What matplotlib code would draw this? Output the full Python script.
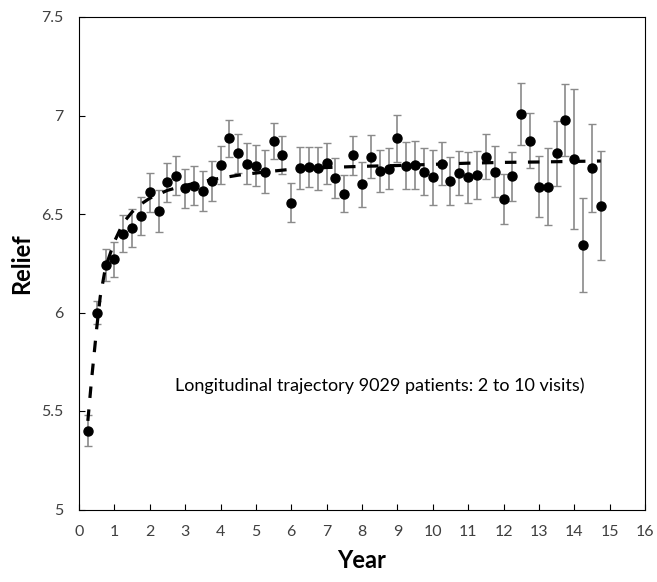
import matplotlib
matplotlib.use("Agg")
import matplotlib.pyplot as plt

# Observed means (quarter-year visits)
years = [0.25, 0.5, 0.75, 1.0, 1.25, 1.5, 1.75, 2.0, 2.25, 2.5, 2.75,
         3.0, 3.25, 3.5, 3.75, 4.0, 4.25, 4.5, 4.75, 5.0, 5.25, 5.5, 5.75,
         6.0, 6.25, 6.5, 6.75, 7.0, 7.25, 7.5, 7.75, 8.0, 8.25, 8.5, 8.75,
         9.0, 9.25, 9.5, 9.75, 10.0, 10.25, 10.5, 10.75, 11.0, 11.25, 11.5, 11.75,
         12.0, 12.25, 12.5, 12.75, 13.0, 13.25, 13.5, 13.75, 14.0, 14.25, 14.5, 14.75]
relief = [5.40, 6.00, 6.24, 6.27, 6.40, 6.43, 6.49, 6.61, 6.515, 6.66, 6.695,
          6.63, 6.644, 6.617, 6.668, 6.749, 6.884, 6.808, 6.755, 6.745, 6.715, 6.872, 6.798,
          6.557, 6.733, 6.739, 6.732, 6.757, 6.681, 6.603, 6.798, 6.651, 6.791, 6.72, 6.73,
          6.884, 6.745, 6.75, 6.715, 6.686, 6.755, 6.668, 6.71, 6.686, 6.696, 6.791, 6.715,
          6.576, 6.691, 7.006, 6.872, 6.639, 6.639, 6.808, 6.977, 6.781, 6.343, 6.733, 6.541]
err = [0.08, 0.06, 0.08, 0.09, 0.093, 0.095, 0.097, 0.10, 0.105, 0.10, 0.10,
       0.10, 0.10, 0.10, 0.10, 0.096, 0.093, 0.098, 0.103, 0.105, 0.108, 0.091, 0.097,
       0.099, 0.107, 0.103, 0.11, 0.104, 0.102, 0.095, 0.10, 0.114, 0.11, 0.106, 0.105,
       0.118, 0.118, 0.122, 0.118, 0.14, 0.11, 0.12, 0.112, 0.13, 0.122, 0.115, 0.13,
       0.128, 0.126, 0.157, 0.139, 0.154, 0.196, 0.166, 0.183, 0.355, 0.24, 0.223, 0.277]

# Fitted trajectory (dashed line)
fit_years = [0.25, 0.3, 0.35, 0.4, 0.45, 0.5, 0.6, 0.75, 1.0, 1.25, 1.5, 1.75, 2.0,
             2.5, 3.0, 3.5, 4.0, 4.5, 5.0, 5.5, 6.0, 7.0, 8.0, 9.0, 10.0, 11.0,
             12.0, 13.0, 14.0, 14.75]
fit_relief = [5.45, 5.55, 5.65, 5.74, 5.83, 5.92, 6.08, 6.23, 6.36, 6.455, 6.51, 6.55, 6.58,
              6.62, 6.645, 6.665, 6.682, 6.697, 6.708, 6.718, 6.727, 6.736, 6.742, 6.746, 6.752, 6.758,
              6.762, 6.764, 6.767, 6.769]

x_ticks = list(range(0, 17))
y_ticks = [5, 5.5, 6, 6.5, 7, 7.5]
y_tick_labels = ["5", "5.5", "6", "6.5", "7", "7.5"]

plt.rcParams['font.family'] = ['Lato', 'DejaVu Sans']

fig = plt.figure(figsize=(6.57, 5.82), dpi=100)
ax = fig.add_axes([79/657, (582-509.5)/582, (645-79)/657, (509.5-17)/582])

ax.errorbar(years, relief, yerr=err, fmt='o', color='black', ms=6.5,
            ecolor='#8a8a8a', elinewidth=1.2, capsize=2.6, capthick=1.0, zorder=3)
ax.plot(fit_years, fit_relief, color='black', lw=2.3, ls=(0, (3.6, 3.6)),
        dash_capstyle='butt', zorder=4)

ax.set_xlim(0, 16)
ax.set_ylim(5, 7.5)
ax.set_xticks(x_ticks)
ax.set_yticks(y_ticks)
ax.set_yticklabels(y_tick_labels)
ax.tick_params(direction='in', length=4, width=0.8, colors='black',
               labelcolor='#404040', labelsize=11.5)
ax.tick_params(axis='x', pad=11)
ax.tick_params(axis='y', pad=11)
for s in ax.spines.values():
    s.set_color('black')
    s.set_linewidth(0.8)

ax.set_xlabel('Year', fontsize=17, fontweight='bold', labelpad=7)
ax.set_ylabel('Relief', fontsize=17, fontweight='bold', labelpad=6)

ax.text(8.5, 5.63, 'Longitudinal trajectory 9029 patients: 2 to 10 visits)',
        ha='center', va='center', fontsize=13, color='black')

fig.savefig('out.png', dpi=100)
